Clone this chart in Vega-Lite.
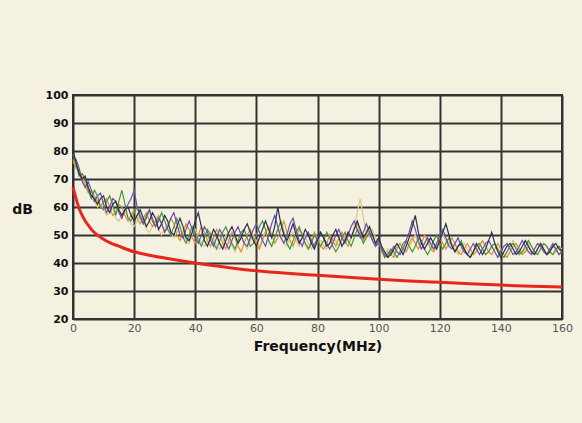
{
"$schema": "https://vega.github.io/schema/vega-lite/v6.json",
"width": 489, "height": 224,
"autosize": {"type": "none"},
"padding": {"left": 73, "top": 95, "right": 20, "bottom": 104},
"background": "#f5f1e1",
"config": {"view": {"stroke": "#333333", "strokeWidth": 2}, "font": "DejaVu Sans"},
"datasets": {
"noise": [
{"f":0,"a":79,"b":78,"c":80,"d":77,"e":76},
{"f":1,"a":75,"b":77,"c":76,"d":74,"e":75},
{"f":2,"a":71,"b":74,"c":72,"d":73,"e":72},
{"f":3,"a":72,"b":69,"c":70,"d":71,"e":70},
{"f":4,"a":70,"b":67,"c":71,"d":68,"e":67},
{"f":5,"a":66,"b":69,"c":67,"d":65,"e":66},
{"f":6,"a":63,"b":66,"c":64,"d":66,"e":63},
{"f":7,"a":66,"b":62,"c":63,"d":64,"e":62},
{"f":8,"a":64,"b":64,"c":61,"d":62,"e":60},
{"f":9,"a":60,"b":65,"c":63,"d":60,"e":61},
{"f":10,"a":59,"b":61,"c":64,"d":62,"e":59},
{"f":11,"a":62,"b":58,"c":60,"d":63,"e":57},
{"f":12,"a":64,"b":60,"c":58,"d":60,"e":58},
{"f":13,"a":61,"b":63,"c":61,"d":57,"e":60},
{"f":14,"a":57,"b":62,"c":62,"d":58,"e":56},
{"f":15,"a":62,"b":58,"c":59,"d":61,"e":55},
{"f":16,"a":66,"b":56,"c":57,"d":60,"e":57},
{"f":17,"a":61,"b":59,"c":59,"d":57,"e":59},
{"f":18,"a":56,"b":61,"c":60,"d":55,"e":56},
{"f":19,"a":55,"b":63,"c":57,"d":57,"e":54},
{"f":20,"a":58,"b":66,"c":55,"d":59,"e":53},
{"f":21,"a":60,"b":60,"c":57,"d":56,"e":55},
{"f":22,"a":57,"b":56,"c":59,"d":54,"e":57},
{"f":23,"a":54,"b":54,"c":56,"d":56,"e":55},
{"f":24,"a":56,"b":57,"c":53,"d":58,"e":52},
{"f":25,"a":59,"b":59,"c":55,"d":55,"e":51},
{"f":26,"a":56,"b":55,"c":58,"d":53,"e":53},
{"f":27,"a":53,"b":53,"c":56,"d":55,"e":55},
{"f":28,"a":55,"b":56,"c":52,"d":57,"e":52},
{"f":29,"a":58,"b":54,"c":54,"d":54,"e":50},
{"f":30,"a":55,"b":51,"c":57,"d":51,"e":52},
{"f":31,"a":52,"b":53,"c":55,"d":53,"e":54},
{"f":32,"a":50,"b":56,"c":51,"d":56,"e":51},
{"f":33,"a":53,"b":58,"c":50,"d":54,"e":49},
{"f":34,"a":56,"b":54,"c":53,"d":50,"e":51},
{"f":35,"a":53,"b":50,"c":56,"d":48,"e":53},
{"f":36,"a":49,"b":49,"c":53,"d":51,"e":50},
{"f":37,"a":47,"b":52,"c":49,"d":54,"e":48},
{"f":38,"a":50,"b":55,"c":48,"d":52,"e":47},
{"f":39,"a":53,"b":52,"c":51,"d":49,"e":50},
{"f":40,"a":51,"b":49,"c":55,"d":47,"e":52},
{"f":41,"a":48,"b":47,"c":58,"d":50,"e":49},
{"f":42,"a":46,"b":50,"c":53,"d":53,"e":47},
{"f":43,"a":49,"b":53,"c":48,"d":51,"e":46},
{"f":44,"a":52,"b":51,"c":46,"d":48,"e":48},
{"f":45,"a":50,"b":48,"c":49,"d":46,"e":51},
{"f":46,"a":47,"b":46,"c":52,"d":49,"e":49},
{"f":47,"a":45,"b":49,"c":50,"d":52,"e":46},
{"f":48,"a":48,"b":52,"c":47,"d":50,"e":45},
{"f":49,"a":51,"b":50,"c":45,"d":47,"e":47},
{"f":50,"a":53,"b":47,"c":48,"d":45,"e":50},
{"f":51,"a":50,"b":45,"c":51,"d":48,"e":48},
{"f":52,"a":47,"b":48,"c":53,"d":51,"e":46},
{"f":53,"a":45,"b":51,"c":50,"d":49,"e":44},
{"f":54,"a":48,"b":53,"c":47,"d":46,"e":47},
{"f":55,"a":51,"b":50,"c":49,"d":44,"e":49},
{"f":56,"a":52,"b":47,"c":52,"d":47,"e":47},
{"f":57,"a":49,"b":46,"c":54,"d":50,"e":45},
{"f":58,"a":46,"b":49,"c":51,"d":52,"e":48},
{"f":59,"a":47,"b":52,"c":48,"d":49,"e":50},
{"f":60,"a":50,"b":54,"c":46,"d":47,"e":48},
{"f":61,"a":53,"b":51,"c":49,"d":45,"e":46},
{"f":62,"a":55,"b":48,"c":52,"d":48,"e":49},
{"f":63,"a":52,"b":46,"c":55,"d":51,"e":51},
{"f":64,"a":48,"b":50,"c":52,"d":53,"e":48},
{"f":65,"a":46,"b":54,"c":49,"d":50,"e":46},
{"f":66,"a":49,"b":57,"c":53,"d":47,"e":49},
{"f":67,"a":52,"b":53,"c":60,"d":49,"e":52},
{"f":68,"a":55,"b":49,"c":54,"d":52,"e":50},
{"f":69,"a":51,"b":47,"c":50,"d":55,"e":47},
{"f":70,"a":47,"b":50,"c":48,"d":51,"e":46},
{"f":71,"a":45,"b":54,"c":51,"d":48,"e":49},
{"f":72,"a":48,"b":56,"c":54,"d":46,"e":51},
{"f":73,"a":51,"b":52,"c":50,"d":49,"e":48},
{"f":74,"a":53,"b":48,"c":47,"d":52,"e":46},
{"f":75,"a":50,"b":46,"c":49,"d":50,"e":49},
{"f":76,"a":47,"b":49,"c":52,"d":47,"e":50},
{"f":77,"a":45,"b":51,"c":50,"d":45,"e":47},
{"f":78,"a":47,"b":48,"c":47,"d":48,"e":45},
{"f":79,"a":50,"b":46,"c":45,"d":51,"e":47},
{"f":80,"a":48,"b":49,"c":48,"d":49,"e":49},
{"f":81,"a":46,"b":51,"c":51,"d":46,"e":48},
{"f":82,"a":48,"b":49,"c":49,"d":45,"e":46},
{"f":83,"a":51,"b":47,"c":46,"d":47,"e":45},
{"f":84,"a":49,"b":45,"c":47,"d":50,"e":47},
{"f":85,"a":46,"b":47,"c":50,"d":48,"e":49},
{"f":86,"a":44,"b":50,"c":52,"d":46,"e":48},
{"f":87,"a":46,"b":52,"c":49,"d":49,"e":46},
{"f":88,"a":49,"b":49,"c":46,"d":51,"e":48},
{"f":89,"a":51,"b":47,"c":48,"d":48,"e":50},
{"f":90,"a":48,"b":50,"c":51,"d":46,"e":51},
{"f":91,"a":46,"b":53,"c":49,"d":49,"e":49},
{"f":92,"a":49,"b":55,"c":52,"d":52,"e":53},
{"f":93,"a":52,"b":52,"c":55,"d":54,"e":58},
{"f":94,"a":50,"b":49,"c":52,"d":51,"e":63},
{"f":95,"a":47,"b":51,"c":49,"d":48,"e":56},
{"f":96,"a":49,"b":54,"c":51,"d":50,"e":51},
{"f":97,"a":51,"b":51,"c":53,"d":53,"e":49},
{"f":98,"a":48,"b":48,"c":50,"d":50,"e":52},
{"f":99,"a":46,"b":46,"c":47,"d":47,"e":49},
{"f":100,"a":47,"b":48,"c":49,"d":48,"e":47},
{"f":101,"a":45,"b":45,"c":46,"d":44,"e":45},
{"f":102,"a":42,"b":43,"c":44,"d":42,"e":43},
{"f":103,"a":43,"b":42,"c":42,"d":44,"e":45},
{"f":104,"a":45,"b":44,"c":43,"d":43,"e":44},
{"f":105,"a":44,"b":46,"c":45,"d":42,"e":43},
{"f":106,"a":42,"b":44,"c":47,"d":45,"e":46},
{"f":107,"a":44,"b":43,"c":45,"d":47,"e":47},
{"f":108,"a":47,"b":45,"c":43,"d":45,"e":45},
{"f":109,"a":48,"b":48,"c":46,"d":44,"e":44},
{"f":110,"a":46,"b":51,"c":49,"d":47,"e":46},
{"f":111,"a":44,"b":55,"c":53,"d":49,"e":48},
{"f":112,"a":46,"b":52,"c":57,"d":47,"e":50},
{"f":113,"a":49,"b":48,"c":51,"d":45,"e":47},
{"f":114,"a":48,"b":45,"c":47,"d":47,"e":45},
{"f":115,"a":45,"b":47,"c":45,"d":50,"e":47},
{"f":116,"a":43,"b":49,"c":47,"d":48,"e":49},
{"f":117,"a":45,"b":47,"c":49,"d":45,"e":47},
{"f":118,"a":48,"b":45,"c":47,"d":44,"e":45},
{"f":119,"a":50,"b":47,"c":45,"d":46,"e":46},
{"f":120,"a":47,"b":50,"c":48,"d":49,"e":48},
{"f":121,"a":45,"b":52,"c":51,"d":47,"e":50},
{"f":122,"a":47,"b":49,"c":54,"d":45,"e":48},
{"f":123,"a":49,"b":46,"c":50,"d":47,"e":46},
{"f":124,"a":46,"b":45,"c":46,"d":49,"e":47},
{"f":125,"a":44,"b":47,"c":44,"d":47,"e":45},
{"f":126,"a":46,"b":49,"c":46,"d":44,"e":43},
{"f":127,"a":48,"b":46,"c":47,"d":43,"e":45},
{"f":128,"a":45,"b":44,"c":45,"d":45,"e":47},
{"f":129,"a":43,"b":43,"c":43,"d":47,"e":45},
{"f":130,"a":42,"b":45,"c":42,"d":45,"e":43},
{"f":131,"a":44,"b":47,"c":44,"d":43,"e":44},
{"f":132,"a":46,"b":45,"c":47,"d":44,"e":46},
{"f":133,"a":47,"b":43,"c":45,"d":46,"e":47},
{"f":134,"a":45,"b":45,"c":43,"d":48,"e":45},
{"f":135,"a":43,"b":47,"c":45,"d":46,"e":43},
{"f":136,"a":44,"b":48,"c":48,"d":44,"e":44},
{"f":137,"a":46,"b":46,"c":51,"d":43,"e":46},
{"f":138,"a":47,"b":44,"c":47,"d":45,"e":47},
{"f":139,"a":45,"b":42,"c":44,"d":47,"e":45},
{"f":140,"a":43,"b":44,"c":42,"d":45,"e":43},
{"f":141,"a":42,"b":46,"c":44,"d":43,"e":42},
{"f":142,"a":44,"b":47,"c":46,"d":42,"e":44},
{"f":143,"a":46,"b":45,"c":47,"d":44,"e":46},
{"f":144,"a":47,"b":43,"c":45,"d":46,"e":48},
{"f":145,"a":45,"b":44,"c":43,"d":47,"e":46},
{"f":146,"a":43,"b":46,"c":44,"d":45,"e":44},
{"f":147,"a":44,"b":48,"c":46,"d":43,"e":43},
{"f":148,"a":46,"b":46,"c":48,"d":44,"e":45},
{"f":149,"a":48,"b":44,"c":46,"d":46,"e":47},
{"f":150,"a":46,"b":43,"c":44,"d":44,"e":46},
{"f":151,"a":44,"b":45,"c":43,"d":43,"e":44},
{"f":152,"a":43,"b":47,"c":45,"d":45,"e":43},
{"f":153,"a":45,"b":46,"c":47,"d":47,"e":45},
{"f":154,"a":47,"b":44,"c":45,"d":45,"e":47},
{"f":155,"a":46,"b":43,"c":43,"d":43,"e":46},
{"f":156,"a":44,"b":45,"c":44,"d":44,"e":44},
{"f":157,"a":43,"b":47,"c":46,"d":46,"e":43},
{"f":158,"a":45,"b":45,"c":47,"d":45,"e":44},
{"f":159,"a":46,"b":43,"c":45,"d":43,"e":46},
{"f":160,"a":44,"b":44,"c":44,"d":44,"e":45}
],
"limit": [
{"f":0,"v":67},{"f":0.5,"v":65},{"f":1,"v":63},{"f":2,"v":59.5},{"f":3,"v":57},{"f":4,"v":55},{"f":5,"v":53.5},{"f":6,"v":52},{"f":8,"v":50},{"f":10,"v":48.5},{"f":12,"v":47.3},{"f":15,"v":46},{"f":20,"v":44},{"f":25,"v":42.8},{"f":30,"v":41.8},{"f":40,"v":40},{"f":50,"v":38.5},{"f":60,"v":37.2},{"f":70,"v":36.3},{"f":80,"v":35.6},{"f":90,"v":34.9},{"f":100,"v":34.2},{"f":110,"v":33.6},{"f":120,"v":33.1},{"f":130,"v":32.6},{"f":140,"v":32.1},{"f":150,"v":31.7},{"f":160,"v":31.4}
]
},
"encoding": {
"x": {"field": "f", "type": "quantitative", "scale": {"domain": [0, 160], "nice": false},
 "axis": {"title": "Frequency(MHz)", "values": [0,20,40,60,80,100,120,140,160], "grid": true, "gridColor": "#333333", "gridWidth": 2, "ticks": false, "domain": false, "labelPadding": 3, "labelFontSize": 11, "labelColor": "#555555", "labelFlush": false, "titleFontSize": 14, "titleFontWeight": "bold", "titleColor": "#111111", "titlePadding": 6}},
"y": {"field": "v", "type": "quantitative", "scale": {"domain": [20, 100], "nice": false},
 "axis": {"title": "dB", "values": [20,30,40,50,60,70,80,90,100], "grid": true, "gridColor": "#333333", "gridWidth": 2, "ticks": false, "domain": false, "labelPadding": 5, "labelFontSize": 11, "labelFontWeight": "bold", "labelColor": "#111111", "labelFlush": false, "titleAngle": 0, "titleX": -51, "titleY": 114, "titleAlign": "center", "titleBaseline": "middle", "titleFontSize": 14, "titleFontWeight": "bold", "titleColor": "#111111"}}
},
"layer": [
{"data": {"name": "noise"},
 "transform": [{"fold": ["e","d","a","b","c"], "as": ["s","v"]}],
 "mark": {"type": "line", "strokeWidth": 1.2},
 "encoding": {"color": {"field": "s", "type": "nominal", "legend": null,
   "scale": {"domain": ["e","d","a","b","c"], "range": ["#d9c68c","#e0902c","#3e9c3e","#6a50b2","#2e2e55"]}}}},
{"data": {"name": "limit"},
 "mark": {"type": "line", "strokeWidth": 3, "color": "#e8261c", "interpolate": "monotone"},
 "encoding": {}}
]
}
